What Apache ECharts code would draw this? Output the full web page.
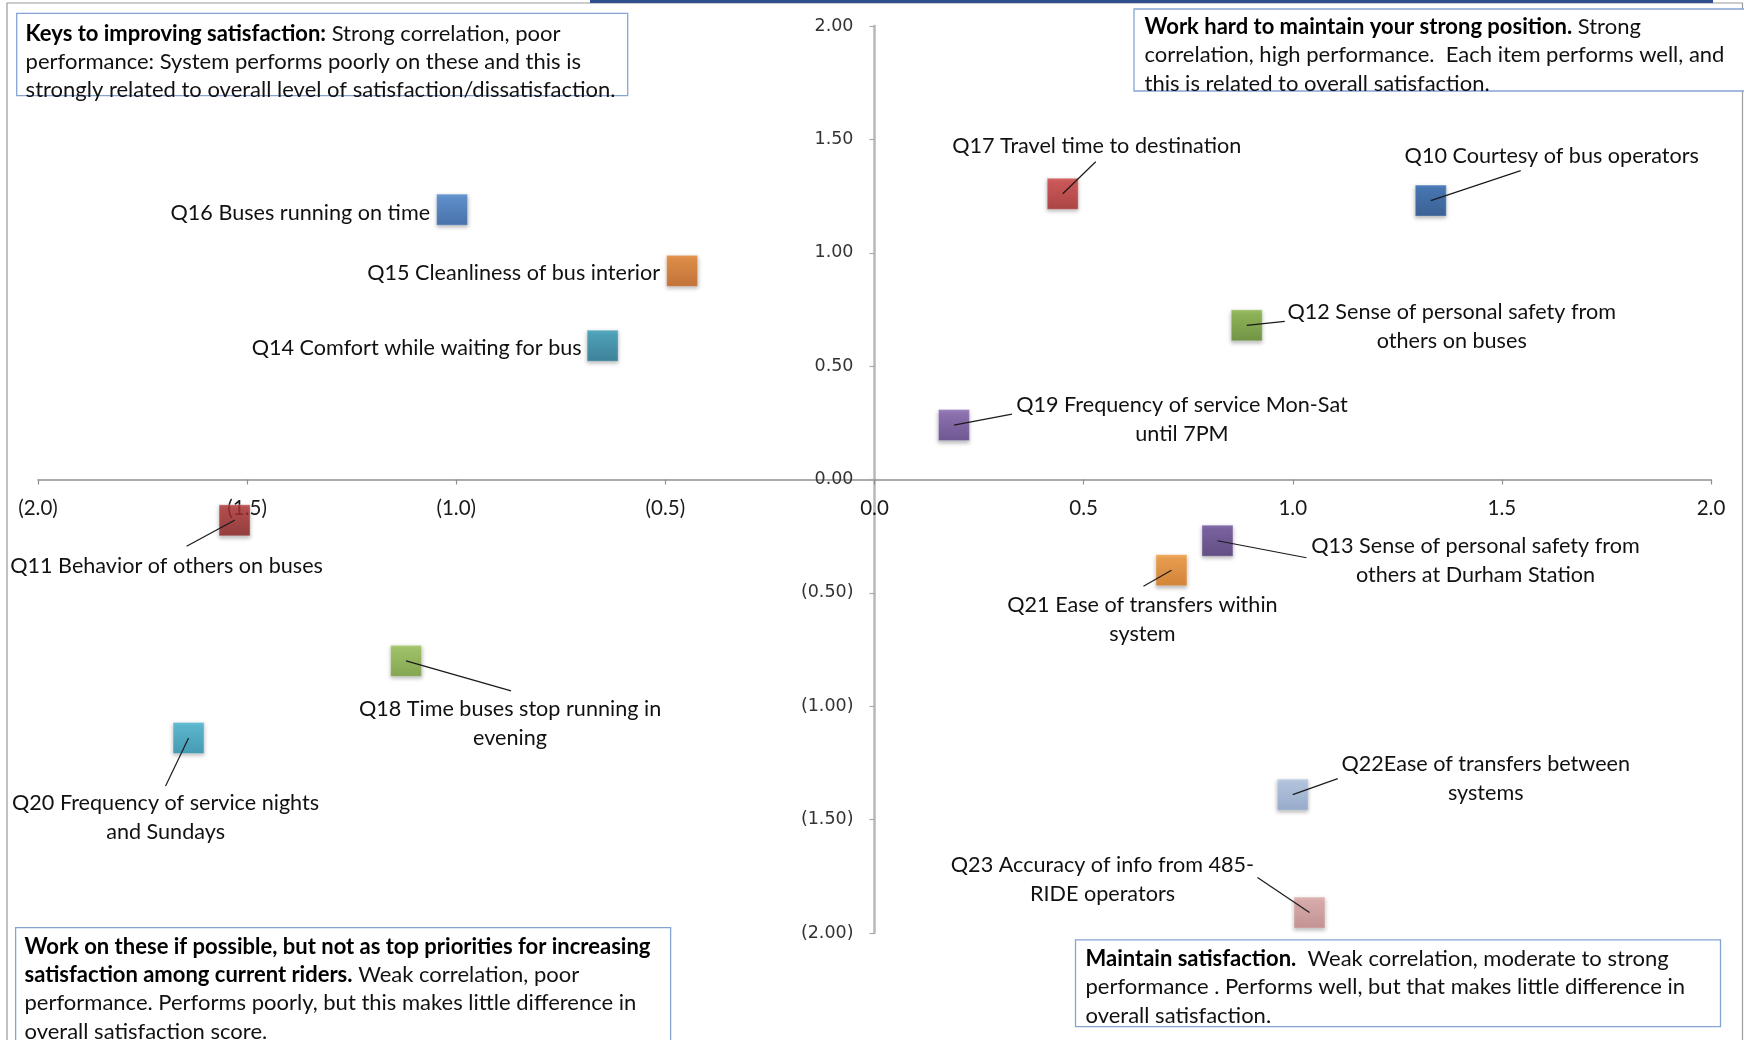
<!DOCTYPE html>
<html>
<head>
<meta charset="utf-8">
<title>Rider satisfaction – correlation vs. performance</title>
<script src="https://cdn.jsdelivr.net/npm/echarts@6/dist/echarts.min.js"></script>
<style>
  html, body { margin: 0; padding: 0; background: #ffffff; }
  #chart { width: 1744px; height: 1040px; }
</style>
</head>
<body>
<div id="chart"></div>
<script>
// Survey items
const items = [
  'Q16 Buses running on time',
  'Q15 Cleanliness of bus interior',
  'Q14 Comfort while waiting for bus',
  'Q17 Travel time to destination',
  'Q10 Courtesy of bus operators',
  'Q12 Sense of personal safety from\nothers on buses',
  'Q19 Frequency of service Mon-Sat\nuntil 7PM',
  'Q11 Behavior of others on buses',
  'Q13 Sense of personal safety from\nothers at Durham Station',
  'Q21 Ease of transfers within\nsystem',
  'Q18 Time buses stop running in\nevening',
  'Q20 Frequency of service nights\nand Sundays',
  'Q22Ease of transfers between\nsystems',
  'Q23 Accuracy of info from 485-\nRIDE operators'
];
// Performance (x) and correlation with overall satisfaction (y), standardized
const performance = [-1.01, -0.46, -0.65, 0.45, 1.33, 0.89, 0.19, -1.53, 0.82, 0.71, -1.12, -1.64, 1.00, 1.04];
const correlation = [1.19, 0.92, 0.59, 1.26, 1.23, 0.68, 0.24, -0.18, -0.27, -0.40, -0.80, -1.14, -1.39, -1.91];

// Axis ranges / tick step
const axisMin = -2, axisMax = 2, axisStep = 0.5;

// Marker fills: [top, bottom] of each square's gradient
const markerColors = [
  ['#4b88d2', '#2d5fa6'],
  ['#ea852c', '#c4611a'],
  ['#34a0bb', '#1f7490'],
  ['#d44343', '#a82828'],
  ['#2b67b2', '#1c4c8c'],
  ['#89b742', '#5e8a29'],
  ['#8664b2', '#5c3f88'],
  ['#b53434', '#8a1f1f'],
  ['#6d4f9c', '#4d3476'],
  ['#f69a38', '#d87618'],
  ['#9dc858', '#77a038'],
  ['#47b8d6', '#2893b0'],
  ['#b3c8e6', '#8ea8cf'],
  ['#e2abab', '#c58989']
];

// Label placement in pixels relative to each marker centre:
// [dx, dy, align, leaderDx, leaderDy]  (leader null = no leader line)
const labelPlacement = [
  [-22, 3, 'right', null, null],
  [-22, 2, 'right', null, null],
  [-21, 2, 'right', null, null],
  [34, -48, 'center', 33, -32],
  [121, -45, 'center', 90, -30],
  [205, 1, 'center', 38, -4],
  [228, -6, 'center', 58, -11],
  [-68, 46, 'center', -48, 26],
  [258, 20, 'center', 89, 17],
  [-29, 49, 'center', -28, 16],
  [104, 63, 'center', 105, 30],
  [-23, 80, 'center', -23, 48],
  [193, -16, 'center', 45, -16],
  [-207, -33, 'center', -52, -35]
];

const FONT_FAMILY = 'Lato, "Open Sans", sans-serif';
const LABEL_FONT = '21.6px ' + FONT_FAMILY;
const BOX_FONT = '22px ' + FONT_FAMILY;
const BOX_FONT_BOLD = 'bold 22px ' + FONT_FAMILY;

// Plot rectangle (pixels)
const GRID = { left: 38, top: 26, width: 1673, height: 907 };

const points = performance.map((x, i) => [x, correlation[i], i]);

const chart = echarts.init(document.getElementById('chart'), null, { renderer: 'canvas' });

function fmtX(v) {
  const s = Math.abs(v).toFixed(1);
  return v < 0 ? '(' + s + ')' : s;
}
function fmtY(v) {
  const s = Math.abs(v).toFixed(2);
  return v < 0 ? '(' + s + ')' : s;
}

// Axes cross at the origin: shift each axis from the grid edge to the zero line
const span = axisMax - axisMin;
const xAxisOffset = -GRID.height * (0 - axisMin) / span;
const yAxisOffset = -GRID.width * (0 - axisMin) / span;

function quadrantBox(x, y, w, h, tx, ty, text) {
  return [
    {
      type: 'rect', z: 50,
      shape: { x: x, y: y, width: w, height: h },
      style: { fill: '#ffffff', stroke: '#85a4d4', lineWidth: 1.3 }
    },
    {
      type: 'text', z: 51,
      x: tx, y: ty,
      style: {
        text: text,
        font: BOX_FONT,
        fill: '#111111',
        lineHeight: 28.3,
        rich: { b: { font: BOX_FONT_BOLD, fill: '#000000', lineHeight: 28.3 } }
      }
    }
  ];
}

const option = {
  backgroundColor: '#ffffff',
  animation: false,
  grid: {
    left: GRID.left, top: GRID.top, width: GRID.width, height: GRID.height,
    containLabel: false, outerBoundsMode: 'none'
  },
  xAxis: {
    type: 'value',
    position: 'bottom',
    offset: xAxisOffset,
    min: axisMin, max: axisMax, interval: axisStep,
    axisLine: { onZero: false, lineStyle: { color: '#909090', width: 1.5 } },
    axisTick: { show: true, length: 5, lineStyle: { color: '#909090', width: 1.2 } },
    axisLabel: {
      formatter: fmtX, margin: 18, hideOverlap: false,
      fontFamily: FONT_FAMILY, fontSize: 20.5, color: '#1a1a1a'
    },
    splitLine: { show: false }
  },
  yAxis: {
    type: 'value',
    position: 'left',
    offset: yAxisOffset,
    min: axisMin, max: axisMax, interval: axisStep,
    axisLine: { onZero: false, lineStyle: { color: '#b8b8b8', width: 2.5 } },
    axisTick: { show: true, length: 5, lineStyle: { color: '#a8a8a8', width: 1.2 } },
    axisLabel: {
      formatter: fmtY, margin: 21, hideOverlap: false,
      fontFamily: '"DejaVu Sans", Verdana, sans-serif', fontSize: 17.5, color: '#333333'
    },
    splitLine: { show: false }
  },
  graphic: [
    // outer frame and header rule
    {
      type: 'rect', z: 40, silent: true,
      shape: { x: 7, y: 3, width: 1735.5, height: 1050 },
      style: { fill: 'none', stroke: '#9a9a9a', lineWidth: 1.2 }
    },
    {
      type: 'rect', z: 41, silent: true,
      shape: { x: 590, y: 0, width: 1123, height: 3 },
      style: { fill: '#2f4f8e' }
    },
    ...quadrantBox(16.7, 13.3, 611, 82.3, 25.6, 19.5,
      '{b|Keys to improving satisfaction:} Strong correlation, poor\nperformance: System performs poorly on these and this is\nstrongly related to overall level of satisfaction/dissatisfaction.'),
    ...quadrantBox(1134, 9, 612, 82, 1144.5, 12.7,
      '{b|Work hard to maintain your strong position.} Strong\ncorrelation, high performance.  Each item performs well, and\nthis is related to overall satisfaction.'),
    ...quadrantBox(15.6, 927.6, 655, 130, 24.5, 932.5,
      '{b|Work on these if possible, but not as top priorities for increasing}\n{b|satisfaction among current riders.} Weak correlation, poor\nperformance. Performs poorly, but this makes little difference in\noverall satisfaction score.'),
    ...quadrantBox(1075.5, 939.8, 645, 86.8, 1085.5, 944.7,
      '{b|Maintain satisfaction.}  Weak correlation, moderate to strong\nperformance . Performs well, but that makes little difference in\noverall satisfaction.')
  ],
  series: [
    {
      type: 'scatter',
      name: 'Items',
      symbol: 'rect',
      symbolSize: 31,
      z: 3,
      data: points.map(p => ({
        value: [p[0], p[1]],
        itemStyle: {
          color: new echarts.graphic.LinearGradient(0, 0, 0, 1, [
            { offset: 0, color: markerColors[p[2]][0] },
            { offset: 1, color: markerColors[p[2]][1] }
          ]),
          borderColor: 'rgba(255,255,255,0.35)',
          borderWidth: 1,
          shadowColor: 'rgba(0,0,0,0.35)',
          shadowBlur: 4,
          shadowOffsetY: 2
        }
      }))
    },
    {
      // item labels with leader lines
      type: 'custom',
      name: 'Labels',
      z: 4,
      silent: true,
      data: points,
      renderItem: function (params, api) {
        const i = api.value(2);
        const c = api.coord([api.value(0), api.value(1)]);
        const pl = labelPlacement[i];
        const children = [];
        if (pl[3] !== null) {
          children.push({
            type: 'line',
            shape: { x1: c[0] + pl[3], y1: c[1] + pl[4], x2: c[0], y2: c[1] },
            style: { stroke: '#1a1a1a', lineWidth: 1.2 }
          });
        }
        children.push({
          type: 'text',
          x: c[0] + pl[0],
          y: c[1] + pl[1],
          style: {
            text: items[i],
            font: LABEL_FONT,
            fill: '#111111',
            align: pl[2],
            verticalAlign: 'middle',
            lineHeight: 29
          }
        });
        return { type: 'group', children: children };
      }
    }
  ]
};

chart.setOption(option);
</script>
</body>
</html>
